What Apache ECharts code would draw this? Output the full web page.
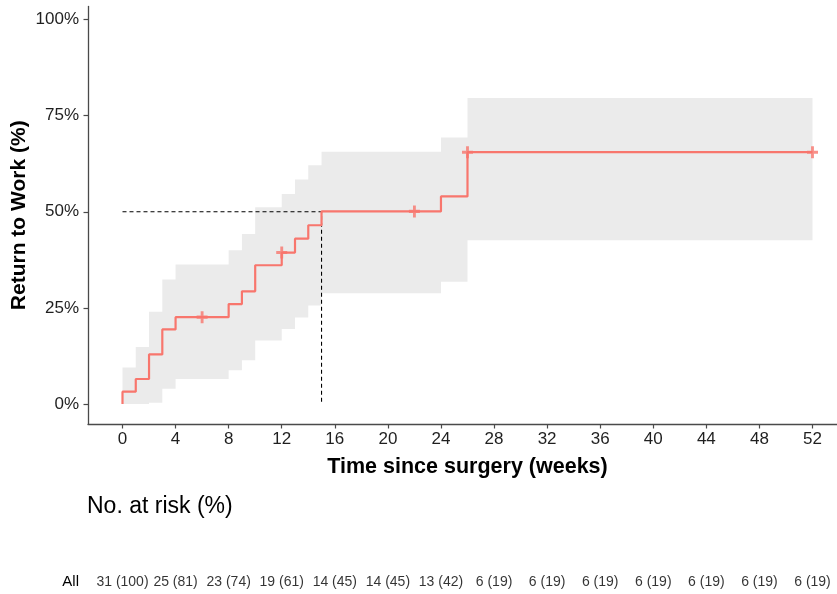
<!DOCTYPE html>
<html>
<head>
<meta charset="utf-8">
<script src="https://cdn.jsdelivr.net/npm/echarts@6/dist/echarts.min.js"></script>
<style>
  html, body { margin: 0; padding: 0; background: #ffffff; }
  #chart { width: 837px; height: 594px; }
</style>
</head>
<body>
<div id="chart"></div>
<script>
// Cumulative return-to-work curve (Kaplan-Meier, shown as events)
const stepWeeks = [0, 0, 1, 2, 3, 4, 8, 9, 10, 12, 13, 14, 15, 24, 26, 52];
const stepPct   = [0, 3.2, 6.5, 12.9, 19.4, 22.6, 26.0, 29.3, 36.1, 39.4, 43.0, 46.5, 50.1, 54.0, 65.5, 65.5];

// 95% confidence band, one value per interval starting at bandWeeks[i]
const bandWeeks = [0, 1, 2, 3, 4, 8, 9, 10, 12, 13, 14, 15, 24, 26, 52];
const bandLower = [0, 0, 0.3, 4.0, 6.5, 8.8, 11.4, 16.5, 19.5, 22.5, 25.6, 28.8, 31.8, 42.6, 42.6];
const bandUpper = [9.5, 14.8, 24.0, 32.4, 36.3, 40.0, 44.2, 51.2, 54.6, 58.4, 62.1, 65.6, 69.3, 79.6, 79.6];

// Censored observations
const censorWeeks = [6, 12, 22, 26, 52];
const censorPct   = [22.6, 39.4, 50.1, 65.5, 65.5];

// Median time to return
const medianWeek = 15;
const medianLevel = 50;

// Axis ticks
const xTicks = [0, 4, 8, 12, 16, 20, 24, 28, 32, 36, 40, 44, 48, 52];
const yTicks = [0, 25, 50, 75, 100];

// Number at risk table
const riskWeeks  = [0, 4, 8, 12, 16, 20, 24, 28, 32, 36, 40, 44, 48, 52];
const riskLabels = ['31 (100)', '25 (81)', '23 (74)', '19 (61)', '14 (45)', '14 (45)', '13 (42)',
                    '6 (19)', '6 (19)', '6 (19)', '6 (19)', '6 (19)', '6 (19)', '6 (19)'];

const FONT = '"Liberation Sans", Arial, sans-serif';
const RED = '#F8766D';
const AXIS = '#4a4a4a';
const X_MIN = -2.6, X_MAX = 54.6;

const chart = echarts.init(document.getElementById('chart'), null, { renderer: 'canvas' });

const option = {
  animation: false,
  backgroundColor: '#ffffff',
  textStyle: { fontFamily: FONT },
  title: {
    text: 'No. at risk (%)',
    left: 87,
    top: 495,
    padding: 0,
    textStyle: { fontFamily: FONT, fontSize: 23, fontWeight: 'normal', color: '#000' }
  },
  grid: [
    { left: 88, right: -10, top: 6.5, bottom: 170, containLabel: false, outerBoundsMode: 'none' },
    { left: 88, right: -10, top: 572, height: 20, containLabel: false, outerBoundsMode: 'none' }
  ],
  xAxis: [
    {
      gridIndex: 0, type: 'value', min: X_MIN, max: X_MAX,
      name: 'Time since surgery (weeks)', nameLocation: 'middle', nameGap: 32, nameMoveOverlap: false,
      nameTextStyle: { fontFamily: FONT, fontSize: 21.5, fontWeight: 'bold', color: '#000' },
      axisLine: { show: true, onZero: false, lineStyle: { color: AXIS, width: 1.3 } },
      axisTick: { show: true, length: 4.5, customValues: xTicks, lineStyle: { color: AXIS, width: 1.2 } },
      axisLabel: { customValues: xTicks, fontSize: 17, color: '#1f1f1f', margin: 7, fontFamily: FONT },
      splitLine: { show: false }
    },
    {
      gridIndex: 1, type: 'value', min: X_MIN, max: X_MAX, show: false
    }
  ],
  yAxis: [
    {
      gridIndex: 0, type: 'value', min: -5.2, max: 103.4,
      name: 'Return to Work (%)', nameLocation: 'middle', nameGap: 58, nameRotate: 90,
      nameMoveOverlap: false,
      nameTextStyle: { fontFamily: FONT, fontSize: 21, fontWeight: 'bold', color: '#000' },
      axisLine: { show: true, onZero: false, lineStyle: { color: AXIS, width: 1.3 } },
      axisTick: { show: true, length: 4.5, customValues: yTicks, lineStyle: { color: AXIS, width: 1.2 } },
      axisLabel: { customValues: yTicks, fontSize: 17, color: '#1f1f1f', margin: 9, fontFamily: FONT,
                   formatter: v => v + '%' },
      splitLine: { show: false }
    },
    {
      gridIndex: 1, type: 'category', data: ['All'],
      axisLine: { show: false }, axisTick: { show: false }, splitLine: { show: false },
      axisLabel: { fontSize: 15, color: '#000', margin: 9, fontFamily: FONT }
    }
  ],
  series: [
    {
      // confidence band drawn as one stepped polygon
      type: 'custom',
      xAxisIndex: 0, yAxisIndex: 0,
      z: 1,
      silent: true,
      data: [[0, 0]],
      renderItem: function (params, api) {
        const pts = [];
        const n = bandWeeks.length;
        for (let i = 0; i < n - 1; i++) {
          pts.push(api.coord([bandWeeks[i], bandUpper[i]]));
          pts.push(api.coord([bandWeeks[i + 1], bandUpper[i]]));
        }
        for (let i = n - 2; i >= 0; i--) {
          pts.push(api.coord([bandWeeks[i + 1], bandLower[i]]));
          pts.push(api.coord([bandWeeks[i], bandLower[i]]));
        }
        return { type: 'polygon', shape: { points: pts }, style: { fill: '#EBEBEB', stroke: null } };
      }
    },
    {
      // median guide lines
      type: 'line',
      xAxisIndex: 0, yAxisIndex: 0,
      z: 2,
      silent: true,
      symbol: 'none',
      data: [[0, medianLevel], [medianWeek, medianLevel], [medianWeek, 0]],
      lineStyle: { color: '#000', width: 1.1, type: [4, 3] }
    },
    {
      type: 'line',
      xAxisIndex: 0, yAxisIndex: 0,
      z: 3,
      step: 'end',
      symbol: 'none',
      data: stepWeeks.map((w, i) => [w, stepPct[i]]),
      lineStyle: { color: RED, width: 2.2 }
    },
    {
      type: 'scatter',
      xAxisIndex: 0, yAxisIndex: 0,
      z: 4,
      symbol: 'path://M3.7,0H6.3V3.7H10V6.3H6.3V10H3.7V6.3H0V3.7H3.7Z',
      symbolSize: [11, 12],
      itemStyle: { color: RED },
      data: censorWeeks.map((w, i) => [w, censorPct[i]])
    },
    {
      // number at risk row
      type: 'scatter',
      xAxisIndex: 1, yAxisIndex: 1,
      symbolSize: 0,
      silent: true,
      data: riskWeeks.map(w => [w, 0]),
      label: {
        show: true, position: 'inside',
        formatter: p => riskLabels[p.dataIndex],
        fontSize: 14, color: '#000', fontFamily: FONT
      }
    }
  ]
};

chart.setOption(option);
</script>
</body>
</html>
